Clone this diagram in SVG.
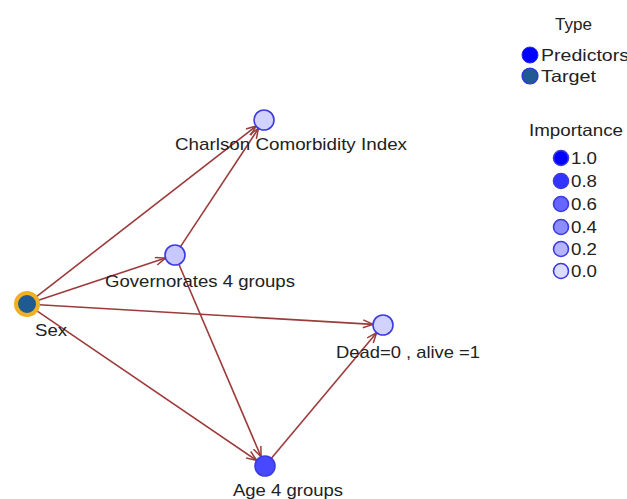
<svg xmlns="http://www.w3.org/2000/svg" width="627" height="499" viewBox="0 0 627 499">
  <style>
    text { font-family: "Liberation Sans", Arial, sans-serif; fill: #222; }
    .lbl { font-size: 17px; }
    .leg { font-size: 16.5px; }
    .edge { stroke: #9c3b3b; stroke-width: 1.6; fill: none; marker-end: url(#arr); }
    .pred { stroke: #3b3be0; stroke-width: 1.6; }
  </style>
  <defs>
    <marker id="arr" markerUnits="userSpaceOnUse" markerWidth="12" markerHeight="10" refX="11" refY="4.5" orient="auto">
      <path d="M1,0.5 L11,4.5 L1,8.5" fill="none" stroke="#9c3b3b" stroke-width="1.5"/>
    </marker>
  </defs>
  <rect width="627" height="499" fill="#ffffff"/>

  <!-- connectors -->
  <g id="edges">
    <line class="edge" x1="36.5" y1="296.6" x2="256.1" y2="126.1"/>
    <line class="edge" x1="38.4" y1="300.2" x2="165.5" y2="258.1"/>
    <line class="edge" x1="39" y1="304.7" x2="373" y2="324.4"/>
    <line class="edge" x1="36.9" y1="310.8" x2="256.7" y2="460.4"/>
    <line class="edge" x1="180.5" y1="246.6" x2="258.5" y2="128.4"/>
    <line class="edge" x1="178.9" y1="264.2" x2="261.1" y2="456.8"/>
    <line class="edge" x1="271.4" y1="458.3" x2="376.6" y2="332.7"/>
  </g>

  <!-- nodes -->
  <g id="node-sex">
    <circle cx="27" cy="304" r="11" fill="#1f5a93" stroke="#f0b020" stroke-width="4"/>
    <text class="lbl" x="35" y="336" textLength="32" lengthAdjust="spacingAndGlyphs">Sex</text>
  </g>
  <g id="node-charlson">
    <circle class="pred" cx="264" cy="120" r="10" fill="#d2d2ff"/>
    <text class="lbl" x="175" y="150" textLength="232" lengthAdjust="spacingAndGlyphs">Charlson Comorbidity Index</text>
  </g>
  <g id="node-governorates">
    <circle class="pred" cx="175" cy="255" r="10" fill="#c8c8ff"/>
    <text class="lbl" x="105" y="287" textLength="190" lengthAdjust="spacingAndGlyphs">Governorates 4 groups</text>
  </g>
  <g id="node-dead">
    <circle class="pred" cx="383" cy="325" r="10" fill="#d2d2ff"/>
    <text class="lbl" x="336" y="358" textLength="144" lengthAdjust="spacingAndGlyphs">Dead=0 , alive =1</text>
  </g>
  <g id="node-age">
    <circle class="pred" cx="265" cy="466" r="10" fill="#4848ff"/>
    <text class="lbl" x="233" y="496" textLength="110" lengthAdjust="spacingAndGlyphs">Age 4 groups</text>
  </g>

  <!-- legend: type -->
  <g id="legend-type">
    <text class="leg" x="555" y="30" textLength="37" lengthAdjust="spacingAndGlyphs">Type</text>
    <circle cx="530" cy="55" r="8" fill="#0000ff" stroke="#2a2af0" stroke-width="1"/>
    <text class="leg" x="541" y="61" textLength="88" lengthAdjust="spacingAndGlyphs">Predictors</text>
    <circle cx="530" cy="76" r="8" fill="#1f5a93" stroke="#2a2af0" stroke-width="1.2"/>
    <text class="leg" x="541" y="82" textLength="55" lengthAdjust="spacingAndGlyphs">Target</text>
  </g>

  <!-- legend: importance -->
  <g id="legend-importance">
    <text class="leg" x="529" y="136" textLength="94" lengthAdjust="spacingAndGlyphs">Importance</text>
    <circle class="pred" cx="561" cy="158" r="7.5" fill="#0000ff"/>
    <text class="leg" x="571" y="164" textLength="26" lengthAdjust="spacingAndGlyphs">1.0</text>
    <circle class="pred" cx="561" cy="181" r="7.5" fill="#3333ff"/>
    <text class="leg" x="571" y="187" textLength="26" lengthAdjust="spacingAndGlyphs">0.8</text>
    <circle class="pred" cx="561" cy="204" r="7.5" fill="#6666ff"/>
    <text class="leg" x="571" y="210" textLength="26" lengthAdjust="spacingAndGlyphs">0.6</text>
    <circle class="pred" cx="561" cy="227" r="7.5" fill="#8c8cff"/>
    <text class="leg" x="571" y="233" textLength="26" lengthAdjust="spacingAndGlyphs">0.4</text>
    <circle class="pred" cx="561" cy="249" r="7.5" fill="#b4b4ff"/>
    <text class="leg" x="571" y="255" textLength="26" lengthAdjust="spacingAndGlyphs">0.2</text>
    <circle class="pred" cx="561" cy="271" r="7.5" fill="#dcdcff"/>
    <text class="leg" x="571" y="277" textLength="26" lengthAdjust="spacingAndGlyphs">0.0</text>
  </g>
</svg>
